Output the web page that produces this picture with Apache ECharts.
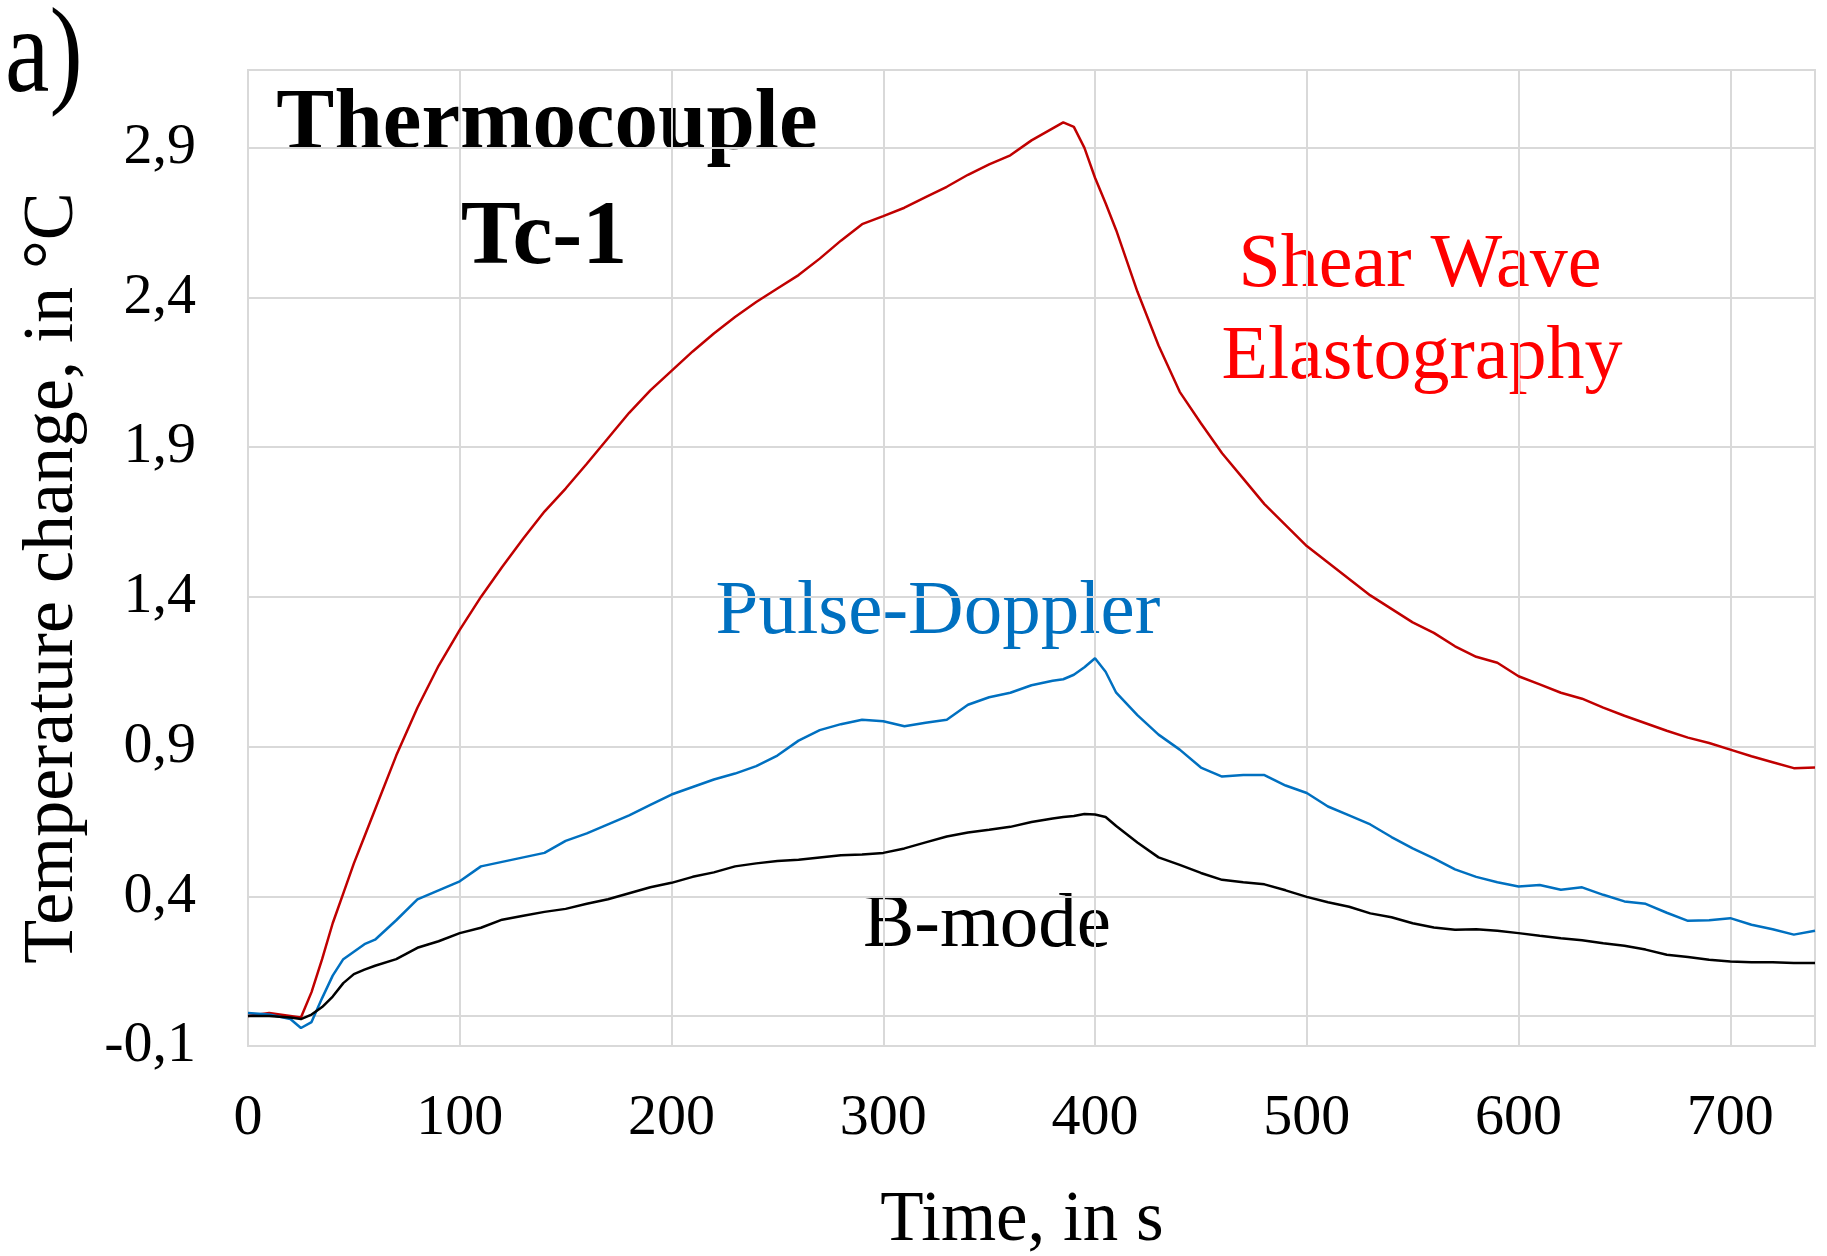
<!DOCTYPE html>
<html>
<head>
<meta charset="utf-8">
<script src="https://cdn.jsdelivr.net/npm/echarts@6/dist/echarts.min.js"></script>
<style>
html,body{margin:0;padding:0;background:#fff;}
#chart{width:1827px;height:1256px;}
</style>
</head>
<body>
<div id="chart"></div>
<script>
// Time in seconds
const time = [0,10,20,25,30,35,40,45,50,55,60,
  70,80,90,100,110,120,130,140,150,160,170,180,190,200,210,220,230,240,250,260,270,280,290,300,310,320,330,340,350,360,370,380,
  385,390,395,400,405,410,
  420,430,440,450,460,470,480,490,500,510,520,530,540,550,560,570,580,590,600,610,620,630,640,650,660,670,680,690,700,710,720,730,740];

// Shear Wave Elastography (red)
const shearWave = [0.00,0.01,0.00,-0.005,0.08,0.19,0.31,0.41,0.51,0.60,0.69,
  0.87,1.03,1.17,1.29,1.40,1.50,1.595,1.685,1.762,1.845,1.93,2.015,2.09,2.155,2.22,2.28,2.335,2.385,2.43,2.475,2.53,2.59,2.645,2.672,2.70,2.735,2.77,2.81,2.845,2.875,2.925,2.965,
  2.985,2.97,2.90,2.80,2.715,2.625,
  2.42,2.24,2.085,1.98,1.88,1.795,1.71,1.64,1.57,1.515,1.46,1.405,1.36,1.315,1.28,1.235,1.20,1.18,1.135,1.108,1.08,1.06,1.03,1.003,0.978,0.953,0.93,0.912,0.89,0.868,0.848,0.828,0.83];

// Pulse-Doppler (blue)
const pulseDoppler = [0.01,0.005,-0.01,-0.04,-0.02,0.06,0.135,0.19,0.215,0.24,0.255,
  0.32,0.39,0.42,0.45,0.50,0.515,0.53,0.545,0.585,0.61,0.64,0.67,0.705,0.74,0.765,0.79,0.81,0.835,0.87,0.92,0.955,0.975,0.99,0.985,0.968,0.98,0.99,1.04,1.065,1.08,1.105,1.12,
  1.125,1.14,1.165,1.195,1.15,1.08,
  1.005,0.94,0.89,0.83,0.80,0.805,0.805,0.77,0.745,0.70,0.67,0.64,0.598,0.56,0.527,0.49,0.465,0.447,0.433,0.438,0.422,0.43,0.405,0.383,0.375,0.345,0.318,0.32,0.327,0.305,0.29,0.272,0.285];

// B-mode (black)
const bMode = [0.0,0.0,-0.005,-0.01,0.005,0.03,0.065,0.11,0.14,0.155,0.168,
  0.19,0.228,0.25,0.277,0.295,0.322,0.335,0.348,0.358,0.375,0.39,0.41,0.43,0.445,0.465,0.48,0.50,0.51,0.518,0.522,0.53,0.537,0.54,0.545,0.56,0.58,0.60,0.613,0.622,0.632,0.648,0.66,
  0.665,0.668,0.675,0.673,0.665,0.635,
  0.58,0.53,0.505,0.478,0.455,0.447,0.44,0.42,0.398,0.38,0.365,0.343,0.33,0.31,0.296,0.288,0.29,0.285,0.277,0.268,0.26,0.253,0.243,0.235,0.222,0.205,0.197,0.188,0.182,0.18,0.18,0.177,0.177];

const zeroLevel = 0;
const xMin = 0, xMax = 740, xStep = 100;
const yMin = -0.1, yMax = 3.16, yStep = 0.5;

const FONT = 'Liberation Serif';
const GRID_COLOR = '#d9d9d9';

function pairs(vals){ return time.map((t,i)=>[t, vals[i]]); }

const chart = echarts.init(document.getElementById('chart'), null, {renderer:'canvas'});

const option = {
  backgroundColor: '#ffffff',
  animation: false,
  grid: { left: 248, right: 12, top: 70, bottom: 210, show: true, borderColor: GRID_COLOR, borderWidth: 2, backgroundColor: 'transparent' },
  xAxis: {
    type: 'value', min: xMin, max: xMax, interval: xStep,
    axisLine: { show: false }, axisTick: { show: false },
    splitLine: { show: true, lineStyle: { color: GRID_COLOR, width: 2 } },
    axisLabel: { fontFamily: FONT, fontSize: 58, color: '#000', margin: 44, showMaxLabel: false,
      formatter: v => (v % 100 === 0 ? String(v) : '') }
  },
  yAxis: {
    type: 'value', min: yMin, max: yMax, interval: yStep,
    axisLine: { show: false }, axisTick: { show: false },
    splitLine: { show: true, lineStyle: { color: GRID_COLOR, width: 2 } },
    axisLabel: { fontFamily: FONT, fontSize: 58, color: '#000', margin: 52, showMaxLabel: false,
      formatter: v => v.toFixed(1).replace('.', ',') }
  },
  series: [
    { name: 'Shear Wave Elastography', type: 'line', data: pairs(shearWave), showSymbol: false, symbol: 'none',
      lineStyle: { color: '#C00000', width: 2.5 }, z: 3,
      markLine: { silent: true, z: 1, symbol: ['none','none'], label: { show: false },
        lineStyle: { color: GRID_COLOR, width: 2, type: 'solid' }, data: [{ yAxis: zeroLevel }] } },
    { name: 'Pulse-Doppler', type: 'line', data: pairs(pulseDoppler), showSymbol: false, symbol: 'none',
      lineStyle: { color: '#0070C0', width: 2.5 }, z: 4 },
    { name: 'B-mode', type: 'line', data: pairs(bMode), showSymbol: false, symbol: 'none',
      lineStyle: { color: '#000000', width: 2.5 }, z: 5 }
  ],
  graphic: [
    { type: 'text', x: 5, y: 59, scaleY: 1.2, style: { text: 'a)', fontFamily: FONT, fontSize: 100, fill: '#000', align: 'left', verticalAlign: 'middle' } },
    { type: 'text', x: 547, y: 126, style: { text: 'Thermocouple', fontFamily: FONT, fontWeight: 'bold', fontSize: 87, fill: '#000', align: 'center', verticalAlign: 'middle' } },
    { type: 'text', x: 544, y: 240, style: { text: 'Tc-1', fontFamily: FONT, fontWeight: 'bold', fontSize: 90, fill: '#000', align: 'center', verticalAlign: 'middle' } },
    { type: 'text', x: 1420, y: 266, style: { text: 'Shear Wave', fontFamily: FONT, fontSize: 76, fill: '#FF0000', align: 'center', verticalAlign: 'middle' } },
    { type: 'text', x: 1422, y: 358, style: { text: 'Elastography', fontFamily: FONT, fontSize: 76, fill: '#FF0000', align: 'center', verticalAlign: 'middle' } },
    { type: 'text', x: 938, y: 613, style: { text: 'Pulse-Doppler', fontFamily: FONT, fontSize: 77, fill: '#0070C0', align: 'center', verticalAlign: 'middle' } },
    { type: 'text', x: 987, y: 926, style: { text: 'B-mode', fontFamily: FONT, fontSize: 77, fill: '#000', align: 'center', verticalAlign: 'middle' } },
    { type: 'text', x: 53, y: 578, rotation: Math.PI/2, style: { text: 'Temperature change, in °C', fontFamily: FONT, fontSize: 72, fill: '#000', align: 'center', verticalAlign: 'middle' } },
    { type: 'text', x: 1022, y: 1221, style: { text: 'Time, in s', fontFamily: FONT, fontSize: 71, fill: '#000', align: 'center', verticalAlign: 'middle' } }
  ]
};
chart.setOption(option);
</script>
</body>
</html>
